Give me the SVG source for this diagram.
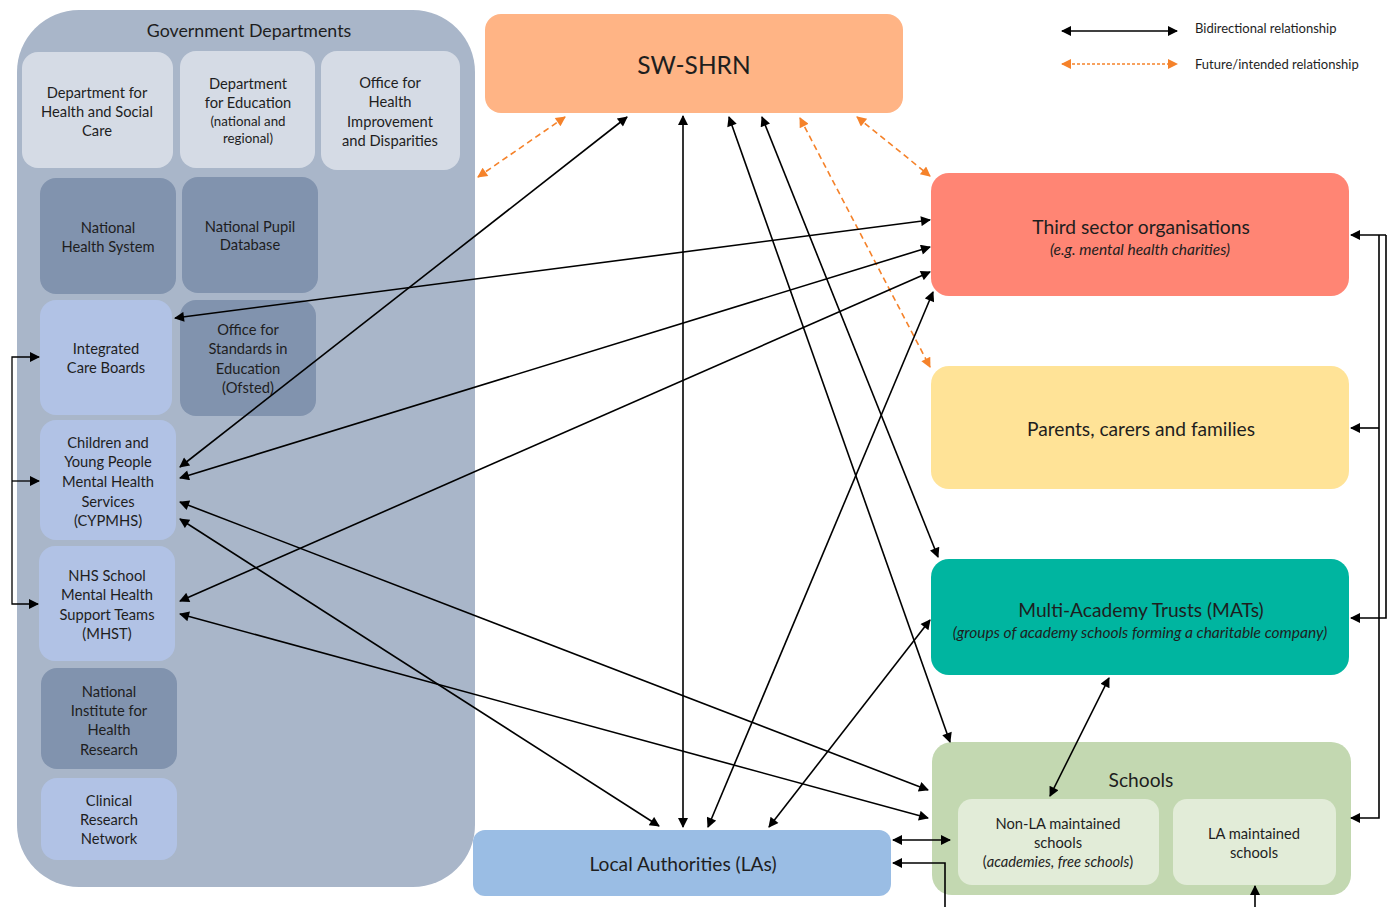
<svg xmlns="http://www.w3.org/2000/svg" width="1391" height="907" viewBox="0 0 1391 907">
<defs>
<style>
text{font-family:Lato,"Open Sans","Liberation Sans",sans-serif;fill:#1e1e1e;text-anchor:middle;dominant-baseline:central}
.s{font-size:14.7px}
.xs{font-size:13.3px}
.big{font-size:19.2px}
.sub{font-size:15.5px;font-style:italic}
.leg{font-size:13px;text-anchor:start}
.c{fill:none;stroke:#000;stroke-width:1.6}
.b{marker-start:url(#ah);marker-end:url(#ah)}
.e{marker-end:url(#ah)}
.d{fill:none;stroke:#f5822a;stroke-width:1.6;stroke-dasharray:6 4;marker-start:url(#ao);marker-end:url(#ao)}
.ld{fill:#d5dbe5}.dk{fill:#8193ae}.lb{fill:#b1c2e5}
</style>
<marker id="ah" viewBox="0 0 10 10" refX="9" refY="5" markerWidth="12" markerHeight="10" markerUnits="userSpaceOnUse" orient="auto-start-reverse"><path d="M0,0 L10,5 L0,10 z" fill="#000"/></marker>
<marker id="ao" viewBox="0 0 10 10" refX="9" refY="5" markerWidth="12" markerHeight="10" markerUnits="userSpaceOnUse" orient="auto-start-reverse"><path d="M0,0 L10,5 L0,10 z" fill="#f5822a"/></marker>
</defs>
<rect width="1391" height="907" fill="#fff"/>

<g id="gov">
<rect x="17" y="10" width="458" height="877" rx="62" fill="#a9b6c9"/>
<text x="249" y="30" style="font-size:17.8px">Government Departments</text>
</g>
<g id="dhsc"><rect class="ld" x="22" y="52" width="151" height="116" rx="16"/>
<text class="s" x="97" y="92">Department for</text><text class="s" x="97" y="111">Health and Social</text><text class="s" x="97" y="130">Care</text></g>
<g id="dfe"><rect class="ld" x="180" y="51" width="135" height="117" rx="16"/>
<text class="s" x="248" y="83">Department</text><text class="s" x="248" y="102">for Education</text><text class="xs" x="248" y="121">(national and</text><text class="xs" x="248" y="138">regional)</text></g>
<g id="ohid"><rect class="ld" x="321" y="51" width="139" height="119" rx="16"/>
<text class="s" x="390" y="82">Office for</text><text class="s" x="390" y="101">Health</text><text class="s" x="390" y="121">Improvement</text><text class="s" x="390" y="140">and Disparities</text></g>
<g id="nhs"><rect class="dk" x="40" y="178" width="136" height="116" rx="16"/>
<text class="s" x="108" y="227">National</text><text class="s" x="108" y="246">Health System</text></g>
<g id="npd"><rect class="dk" x="182" y="177" width="136" height="116" rx="16"/>
<text class="s" x="250" y="226">National Pupil</text><text class="s" x="250" y="244">Database</text></g>
<g id="icb"><rect class="lb" x="40" y="300" width="132" height="115" rx="16"/>
<text class="s" x="106" y="348">Integrated</text><text class="s" x="106" y="367">Care Boards</text></g>
<g id="ofsted"><rect class="dk" x="180" y="300" width="136" height="116" rx="16"/>
<text class="s" x="248" y="329">Office for</text><text class="s" x="248" y="348">Standards in</text><text class="s" x="248" y="368">Education</text><text class="s" x="248" y="387">(Ofsted)</text></g>
<g id="cypmhs"><rect class="lb" x="40" y="420" width="136" height="120" rx="16"/>
<text class="s" x="108" y="442">Children and</text><text class="s" x="108" y="461">Young People</text><text class="s" x="108" y="481">Mental Health</text><text class="s" x="108" y="501">Services</text><text class="s" x="108" y="520">(CYPMHS)</text></g>
<g id="mhst"><rect class="lb" x="39" y="546" width="136" height="115" rx="16"/>
<text class="s" x="107" y="575">NHS School</text><text class="s" x="107" y="594">Mental Health</text><text class="s" x="107" y="614">Support Teams</text><text class="s" x="107" y="633">(MHST)</text></g>
<g id="nihr"><rect class="dk" x="41" y="668" width="136" height="101" rx="16"/>
<text class="s" x="109" y="691">National</text><text class="s" x="109" y="710">Institute for</text><text class="s" x="109" y="729">Health</text><text class="s" x="109" y="749">Research</text></g>
<g id="crn"><rect class="lb" x="41" y="778" width="136" height="82" rx="16"/>
<text class="s" x="109" y="800">Clinical</text><text class="s" x="109" y="819">Research</text><text class="s" x="109" y="838">Network</text></g>

<g id="swshrn"><rect x="485" y="14" width="418" height="99" rx="16" fill="#ffb485"/>
<text x="694" y="64" style="font-size:24.5px">SW-SHRN</text></g>
<g id="third"><rect x="931" y="173" width="418" height="123" rx="18" fill="#ff8574"/>
<text class="big" x="1141" y="226">Third sector organisations</text><text class="sub" x="1140" y="249">(e.g. mental health charities)</text></g>
<g id="parents"><rect x="931" y="366" width="418" height="123" rx="18" fill="#ffe397"/>
<text class="big" x="1141" y="428">Parents, carers and families</text></g>
<g id="mats"><rect x="931" y="559" width="418" height="116" rx="18" fill="#00b5a0"/>
<text class="big" x="1141" y="609">Multi-Academy Trusts (MATs)</text><text class="sub" x="1140" y="632">(groups of academy schools forming a charitable company)</text></g>
<g id="schools"><rect x="932" y="742" width="419" height="153" rx="20" fill="#c3d8b1"/>
<text class="big" x="1141" y="779">Schools</text>
<rect x="958" y="799" width="201" height="86" rx="14" fill="#e2ecd8"/>
<text class="s" x="1058" y="823">Non-LA maintained</text><text class="s" x="1058" y="842">schools</text><text class="s" x="1058" y="861">(<tspan font-style="italic">academies, free schools</tspan>)</text>
<rect x="1173" y="799" width="163" height="86" rx="14" fill="#e2ecd8"/>
<text class="s" x="1254" y="833">LA maintained</text><text class="s" x="1254" y="852">schools</text></g>
<g id="las"><rect x="473" y="830" width="418" height="66" rx="12" fill="#9abde4"/>
<text class="big" x="683" y="863">Local Authorities (LAs)</text></g>

<g id="legend">
<line class="c b" x1="1062" y1="31" x2="1177" y2="31"/>
<text class="leg" x="1195" y="28">Bidirectional relationship</text>
<line class="d" x1="1062" y1="64" x2="1177" y2="64" style="stroke-dasharray:3 2"/>
<text class="leg" x="1195" y="64">Future/intended relationship</text>
</g>

<g id="connectors">
<line class="d" x1="565" y1="117" x2="478" y2="177"/>
<line class="d" x1="857" y1="117" x2="930" y2="176"/>
<line class="d" x1="800" y1="118" x2="930" y2="367"/>
<line class="c b" x1="627" y1="117" x2="180" y2="467"/>
<line class="c b" x1="683" y1="116" x2="683" y2="827"/>
<line class="c b" x1="729" y1="117" x2="950" y2="742"/>
<line class="c b" x1="762" y1="117" x2="938" y2="557"/>
<line class="c b" x1="930" y1="220" x2="175" y2="318"/>
<line class="c b" x1="930" y1="247" x2="180" y2="478"/>
<line class="c b" x1="930" y1="272" x2="180" y2="601"/>
<line class="c b" x1="933" y1="292" x2="708" y2="827"/>
<line class="c b" x1="930" y1="620" x2="769" y2="827"/>
<line class="c b" x1="1109" y1="678" x2="1050" y2="796"/>
<line class="c b" x1="180" y1="502" x2="928" y2="790"/>
<line class="c b" x1="180" y1="519" x2="659" y2="826"/>
<line class="c b" x1="180" y1="614" x2="928" y2="818"/>
<line class="c b" x1="893" y1="840" x2="950" y2="840"/>
<path class="c e" d="M945,907 V863 H893"/>
<path class="c e" d="M1255,907 V886"/>
<path class="c e" d="M1386,235 H1351"/>
<path class="c e" d="M1386,235 V618 H1351"/>
<path class="c e" d="M1379,235 V818 H1351"/>
<path class="c e" d="M1379,428 H1351"/>
<path class="c e" d="M12,481 V357 H39" style="stroke-width:1.3"/>
<path class="c e" d="M12,481 H39" style="stroke-width:1.3"/>
<path class="c e" d="M12,481 V604 H38" style="stroke-width:1.3"/>
</g>
</svg>
